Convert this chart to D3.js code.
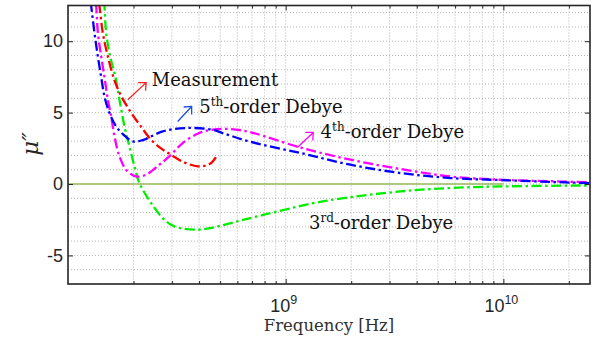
<!DOCTYPE html>
<html>
<head>
<meta charset="utf-8">
<script src="https://cdn.jsdelivr.net/npm/d3@7"></script>
<style>
  body { margin: 0; background: #fff; }
  svg { display: block; }
  .tick text { font-family: "Liberation Sans", Arial, sans-serif; font-size: 18px; fill: #262626; }
  .note { font-family: "DejaVu Serif", serif; font-size: 18px; fill: #111; }
</style>
</head>
<body>
<div id="chart"></div>
<script>
// values: [frequency in Hz, mu'']
const measurement = [
  [1.355e8, 14.0], [1.396e8, 12.42], [1.446e8, 10.56], [1.525e8, 8.92], [1.635e8, 7.25],
  [1.754e8, 6.17], [1.950e8, 4.99], [2.167e8, 4.01], [2.408e8, 3.1], [2.676e8, 2.5],
  [2.973e8, 2.05], [3.411e8, 1.52], [3.953e8, 1.24], [4.300e8, 1.29], [4.581e8, 1.52],
  [4.830e8, 1.98]
];
const debye5 = [
  [1.239e8, 14.1], [1.279e8, 12.42], [1.324e8, 10.56], [1.372e8, 8.92], [1.421e8, 7.48],
  [1.471e8, 6.13], [1.551e8, 4.97], [1.664e8, 4.03], [1.786e8, 3.5], [1.985e8, 2.98],
  [2.206e8, 3.08], [2.724e8, 3.68], [3.483e8, 3.92], [4.615e8, 3.8], [5.129e8, 3.57],
  [6.914e8, 2.95], [1.172e9, 2.17], [1.986e9, 1.35], [3.364e9, 0.77], [5.699e9, 0.42],
  [9.658e9, 0.28], [1.636e10, 0.15], [2.495e10, 0.06]
];
const debye4 = [
  [1.320e8, 14.0], [1.348e8, 12.42], [1.372e8, 10.56], [1.421e8, 8.92], [1.471e8, 7.48],
  [1.525e8, 5.9], [1.579e8, 4.73], [1.635e8, 3.33], [1.724e8, 1.93], [1.850e8, 1.0],
  [2.055e8, 0.53], [2.284e8, 0.65], [2.628e8, 1.35], [2.920e8, 1.93], [3.364e8, 2.87],
  [4.006e8, 3.57], [4.615e8, 3.8], [5.598e8, 3.85], [6.914e8, 3.62], [1.172e9, 2.55],
  [1.986e9, 1.7], [3.364e9, 1.05], [5.699e9, 0.53], [9.658e9, 0.3], [1.636e10, 0.2],
  [2.495e10, 0.12]
];
const debye3 = [
  [1.443e8, 14.2], [1.471e8, 12.42], [1.498e8, 10.56], [1.562e8, 8.92], [1.652e8, 7.48],
  [1.724e8, 5.89], [1.817e8, 4.03], [1.915e8, 2.63], [2.020e8, 1.23], [2.128e8, 0.07],
  [2.408e8, -1.33], [2.771e8, -2.5], [3.079e8, -2.97], [3.940e8, -3.2], [4.694e8, -3.03],
  [5.598e8, -2.73], [7.957e8, -2.15], [1.498e9, -1.2], [3.364e9, -0.52], [5.699e9, -0.28],
  [9.658e9, -0.17], [2.495e10, -0.1]
];
const zeroLine = [[1e8, 0], [1e10, 0]];

const xMajor = [1e9, 1e10];
const xMinor = [2e8, 3e8, 4e8, 5e8, 6e8, 7e8, 8e8, 9e8,
                2e9, 3e9, 4e9, 5e9, 6e9, 7e9, 8e9, 9e9, 2e10];
const yMajor = [-5, 0, 5, 10];
const yGrid = d3.range(-7, 13, 1);

const width = 600, height = 345;
const margin = {top: 5.5, left: 68, right: 10, bottom: 61};

const svg = d3.select("#chart").append("svg")
    .attr("width", width)
    .attr("height", height);

const x = d3.scaleLog()
    .domain([1e8, 2.5e10])
    .range([margin.left, width - margin.right]);
const y = d3.scaleLinear()
    .domain([-7, 12.5])
    .range([height - margin.bottom, margin.top]);

const x0 = x.range()[0], x1 = x.range()[1];
const y0 = y.range()[0], y1 = y.range()[1];

svg.append("defs").append("clipPath").attr("id", "plot")
  .append("rect").attr("x", x0).attr("y", y1).attr("width", x1 - x0).attr("height", y0 - y1);

// dotted grid
const grid = svg.append("g").attr("stroke", "#b4b4b4").attr("stroke-width", 1)
    .attr("stroke-dasharray", "1,2");
grid.selectAll(".gx").data(xMajor.concat(xMinor)).enter().append("line")
    .attr("x1", d => x(d)).attr("x2", d => x(d))
    .attr("y1", y1).attr("y2", y0);
grid.selectAll(".gy").data(yGrid).enter().append("line")
    .attr("x1", x0).attr("x2", x1)
    .attr("y1", d => y(d)).attr("y2", d => y(d));

const line = d3.line()
    .x(d => x(d[0]))
    .y(d => y(d[1]))
    .curve(d3.curveCatmullRom.alpha(0.5));

const plot = svg.append("g").attr("clip-path", "url(#plot)");

plot.append("path").datum(zeroLine)
    .attr("d", d3.line().x(d => x(d[0])).y(d => y(d[1])))
    .attr("stroke", "#98bb5e").attr("stroke-width", 1.6).attr("fill", "none");

const series = [
  {data: debye3, color: "#00ee00"},
  {data: debye4, color: "#ff00ff"},
  {data: debye5, color: "#0000ff"},
  {data: measurement, color: "#ff0000"}
];
plot.selectAll(".curve").data(series).enter().append("path")
    .attr("class", "curve")
    .attr("d", d => line(d.data))
    .attr("fill", "none")
    .attr("stroke", d => d.color)
    .attr("stroke-width", 2.3)
    .attr("stroke-dasharray", "10,3.5,2.5,3.5");

// axes, ticks pointing inward
function styleAxis(g) {
  g.select(".domain").remove();
  g.selectAll(".tick line").attr("stroke", "#262626").attr("stroke-width", 1);
}
svg.append("g").attr("transform", `translate(0,${y0})`)
    .call(d3.axisBottom(x).tickValues(xMajor).tickSize(-5).tickFormat(""))
    .call(styleAxis);
svg.append("g").attr("transform", `translate(0,${y0})`)
    .call(d3.axisBottom(x).tickValues(xMinor).tickSize(-3).tickFormat(""))
    .call(styleAxis);
svg.append("g").attr("transform", `translate(0,${y1})`)
    .call(d3.axisTop(x).tickValues(xMajor).tickSize(-5).tickFormat(""))
    .call(styleAxis);
svg.append("g").attr("transform", `translate(0,${y1})`)
    .call(d3.axisTop(x).tickValues(xMinor).tickSize(-3).tickFormat(""))
    .call(styleAxis);
svg.append("g").attr("transform", `translate(${x0},0)`)
    .call(d3.axisLeft(y).tickValues(yMajor).tickSize(-5).tickPadding(5).tickFormat(d => String(d)))
    .call(styleAxis);
svg.append("g").attr("transform", `translate(${x1},0)`)
    .call(d3.axisRight(y).tickValues(yMajor).tickSize(-5).tickFormat(""))
    .call(styleAxis);

// x tick labels as powers of ten
const xLab = svg.append("g").selectAll("text").data(xMajor).enter().append("text")
    .attr("x", d => x(d) - 2)
    .attr("y", y0 + 28)
    .attr("text-anchor", "middle")
    .style("font-family", "Liberation Sans, Arial, sans-serif")
    .style("font-size", "18px")
    .style("fill", "#262626");
xLab.append("tspan").text("10");
xLab.append("tspan").attr("dy", -8).style("font-size", "12.5px").text(d => Math.round(Math.log10(d)));

// frame
svg.append("rect")
    .attr("x", x0).attr("y", y1).attr("width", x1 - x0).attr("height", y0 - y1)
    .attr("fill", "none").attr("stroke", "#262626").attr("stroke-width", 1.6);

// axis titles
svg.append("text")
    .attr("x", (x0 + x1) / 2)
    .attr("y", y0 + 46.5)
    .attr("text-anchor", "middle")
    .style("font-family", "DejaVu Serif, serif")
    .style("font-size", "16.5px")
    .style("fill", "#303030")
    .text("Frequency [Hz]");

svg.append("text")
    .attr("transform", `translate(38,${y(2.8)}) rotate(-90)`)
    .attr("text-anchor", "middle")
    .style("font-family", "DejaVu Serif, serif")
    .style("font-style", "italic")
    .style("font-size", "23px")
    .style("fill", "#262626")
    .text("\u03bc\u2033");

// annotations: label text, superscript, rest, text anchor and arrow in data units
const notes = [
  {main: "Measurement", sup: "", rest: "", at: [2.425e8, 6.83], from: [1.883e8, 5.9], to: [2.284e8, 7.1], color: "#ff2020"},
  {main: "5", sup: "th", rest: "-order Debye", at: [4.006e8, 4.97], from: [3.191e8, 4.38], to: [3.698e8, 5.43], color: "#1a50e0"},
  {main: "4", sup: "th", rest: "-order Debye", at: [1.447e9, 3.22], from: [1.131e9, 2.56], to: [1.339e9, 3.61], color: "#ff00ff"},
  {main: "3", sup: "rd", rest: "-order Debye", at: [1.279e9, -3.13], color: null}
];

notes.forEach(n => {
  const t = svg.append("text").attr("class", "note")
      .attr("x", x(n.at[0])).attr("y", y(n.at[1]));
  t.append("tspan").text(n.main);
  if (n.sup) {
    t.append("tspan").attr("dy", -7).style("font-size", "12px").text(n.sup);
    t.append("tspan").attr("dy", 7).text(n.rest);
  }
  if (n.color) {
    const ax = x(n.from[0]), ay = y(n.from[1]);
    const bx = x(n.to[0]), by = y(n.to[1]);
    const ang = Math.atan2(by - ay, bx - ax);
    const L = 8, a = Math.PI * 0.24;
    const h1 = [bx - L * Math.cos(ang - a), by - L * Math.sin(ang - a)];
    const h2 = [bx - L * Math.cos(ang + a), by - L * Math.sin(ang + a)];
    svg.append("path")
        .attr("d", `M${ax},${ay}L${bx},${by}M${h1[0]},${h1[1]}L${bx},${by}L${h2[0]},${h2[1]}`)
        .attr("fill", "none").attr("stroke", n.color).attr("stroke-width", 1.3);
  }
});
</script>
</body>
</html>
